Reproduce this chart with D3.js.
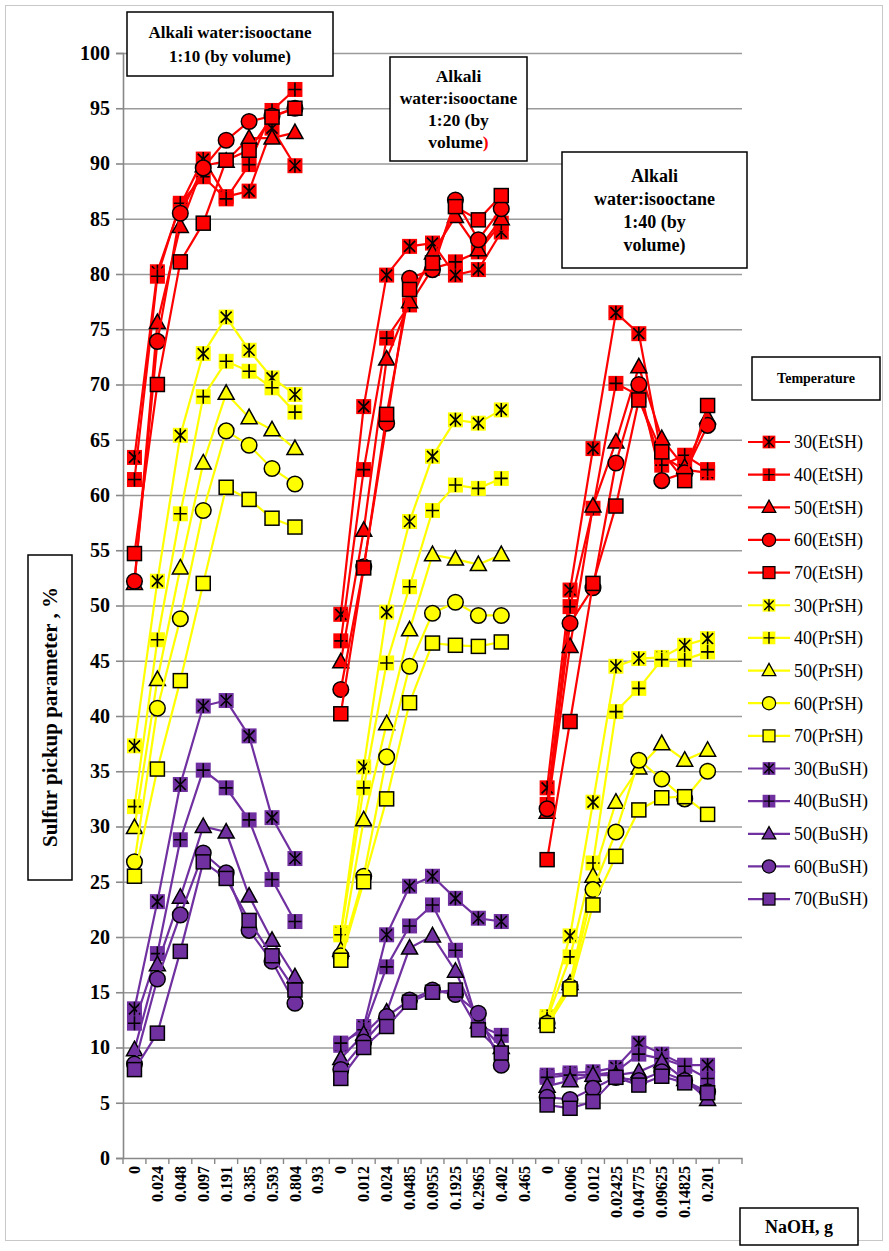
<html>
<script src='https://d3js.org/d3.v7.min.js'></script>
<style>
  body { margin: 0; background: #fff; }
  svg text { font-family: "Liberation Serif", "DejaVu Serif", Times, serif !important; }
</style>
<body onload='init()'>
<svg width=889 height=1251></svg>
<script>
// category labels along the x axis (three groups, last slot of each empty)
var xLabels = ["0","0.024","0.048","0.097","0.191","0.385","0.593","0.804","0.93",
               "0","0.012","0.024","0.0485","0.0955","0.1925","0.2965","0.402","0.465",
               "0","0.006","0.012","0.02425","0.04775","0.09625","0.14825","0.201",""];
var yTicks = [0,5,10,15,20,25,30,35,40,45,50,55,60,65,70,75,80,85,90,95,100];

var seriesNames = ["30(EtSH)","40(EtSH)","50(EtSH)","60(EtSH)","70(EtSH)",
                   "30(PrSH)","40(PrSH)","50(PrSH)","60(PrSH)","70(PrSH)",
                   "30(BuSH)","40(BuSH)","50(BuSH)","60(BuSH)","70(BuSH)"];

var et30 = [63.4,80.2,86.2,90.4,87.0,87.5,93.2,89.8,null, 49.2,68.0,79.9,82.5,82.8,79.9,80.4,83.8,null, 33.5,51.4,64.2,76.5,74.6,63.5,62.3,62.0,null];
var et40 = [61.4,79.8,86.4,88.8,86.8,89.9,94.8,96.7,null, 46.8,62.3,74.2,77.2,80.5,81.1,82.0,84.6,null, 32.0,49.9,58.8,70.1,69.0,62.7,63.6,62.3,null];
var et50 = [52.0,75.6,84.3,89.8,90.2,92.3,92.3,92.8,null, 44.9,56.8,72.3,77.5,81.9,85.2,82.2,85.0,null, 31.3,46.3,59.0,64.8,71.6,65.1,62.5,67.0,null];
var et60 = [52.2,73.9,85.5,89.6,92.1,93.8,94.3,95.0,null, 42.4,53.5,66.5,79.6,80.4,86.7,83.1,85.9,null, 31.6,48.4,51.6,62.9,70.0,61.3,62.0,66.3,null];
var et70 = [54.7,70.0,81.1,84.6,90.3,91.2,94.2,95.0,null, 40.2,53.4,67.3,78.6,81.0,86.1,84.9,87.1,null, 27.0,39.5,52.0,59.0,68.6,63.9,61.3,68.1,null];

var pr30 = [37.3,52.2,65.4,72.8,76.1,73.1,70.6,69.1,null, 20.4,35.4,49.4,57.6,63.5,66.8,66.5,67.7,null, 12.8,20.1,32.2,44.5,45.2,45.3,46.4,47.0,null];
var pr40 = [31.8,46.9,58.3,68.9,72.1,71.2,69.7,67.5,null, 20.2,33.5,44.8,51.7,58.6,60.9,60.6,61.5,null, 12.6,18.2,26.7,40.4,42.5,45.1,45.1,45.8,null];
var pr50 = [29.9,43.3,53.4,62.9,69.2,67.0,65.9,64.2,null, 18.8,30.6,39.3,47.8,54.6,54.2,53.7,54.6,null, 12.3,15.8,25.5,32.2,35.3,37.5,36.0,36.9,null];
var pr60 = [26.8,40.7,48.8,58.6,65.8,64.5,62.4,61.0,null, 18.3,25.5,36.3,44.5,49.3,50.3,49.1,49.1,null, 12.2,15.5,24.3,29.5,36.0,34.3,32.5,35.0,null];
var pr70 = [25.5,35.2,43.2,52.0,60.7,59.6,57.9,57.1,null, 17.9,25.0,32.5,41.2,46.6,46.4,46.3,46.7,null, 12.0,15.3,22.9,27.3,31.5,32.6,32.7,31.1,null];

var bu30 = [13.5,23.2,33.8,40.9,41.4,38.2,30.8,27.1,null, 10.2,11.9,20.2,24.6,25.5,23.5,21.7,21.4,null, 7.5,7.7,7.8,8.2,10.4,9.4,8.4,8.4,null];
var bu40 = [12.2,18.5,28.8,35.1,33.5,30.6,25.2,21.4,null, 10.4,11.6,17.3,21.0,22.9,18.8,12.0,11.1,null, 7.3,7.5,7.5,7.8,9.4,9.0,8.3,7.2,null];
var bu50 = [9.8,17.5,23.6,30.0,29.5,23.7,19.7,16.4,null, 9.0,11.2,13.2,19.0,20.1,16.9,12.3,10.0,null, 6.5,7.0,7.5,7.5,7.8,8.7,7.1,5.3,null];
var bu60 = [8.5,16.2,22.0,27.6,25.8,20.6,17.8,14.0,null, 8.0,10.5,12.8,14.3,15.2,14.8,13.1,8.4,null, 5.5,5.3,6.3,7.3,7.0,7.8,7.0,6.0,null];
var bu70 = [8.0,11.3,18.7,26.8,25.3,21.5,18.3,15.2,null, 7.2,10.0,11.9,14.1,15.0,15.2,11.6,9.5,null, 4.8,4.5,5.1,7.3,6.6,7.4,6.8,5.9,null];

var seriesValues = [et30,et40,et50,et60,et70, pr30,pr40,pr50,pr60,pr70, bu30,bu40,bu50,bu60,bu70];
var colors = ["#ff0000","#ffff00","#7030a0"];
var markerTypes = ["star","plus","tri","circle","square"];
var serif = "'Liberation Serif', 'DejaVu Serif', Times, serif";

function drawMarker(g, type, color) {
  if (type == "star" || type == "plus") {
    g.append("rect").attr("x",-7.5).attr("y",-7.5).attr("width",15).attr("height",15).attr("fill",color);
    var p = type == "star"
      ? "M-5.5,-5.5L5.5,5.5M-5.5,5.5L5.5,-5.5M0,-7L0,7"
      : "M-6.5,0L6.5,0M0,-7L0,7";
    g.append("path").attr("d",p).attr("stroke","#000").attr("stroke-width",1.6);
  } else if (type == "tri") {
    g.append("path").attr("d","M0,-8.5L8,6L-8,6Z").attr("fill",color).attr("stroke","#000").attr("stroke-width",1.5);
  } else if (type == "circle") {
    g.append("circle").attr("r",7.8).attr("fill",color).attr("stroke","#000").attr("stroke-width",1.5);
  } else {
    g.append("rect").attr("x",-7).attr("y",-7).attr("width",14).attr("height",14)
      .attr("fill",color).attr("stroke","#000").attr("stroke-width",1.5);
  }
}

function init() {
  var left = 123, right = 742, top = 53, bottom = 1158;
  var svg = d3.select("svg").style("font-family", serif);

  // outer frame
  svg.append("rect").attr("x",5.5).attr("y",5.5).attr("width",877).attr("height",1235)
     .attr("fill","none").attr("stroke","#c8c8c8").attr("stroke-width",1);

  var x = d3.scaleBand().domain(d3.range(xLabels.length)).range([left,right]);
  var y = d3.scaleLinear().domain([0,100]).range([bottom,top]);
  var cx = function(i) { return x(i) + x.bandwidth()/2; };

  // gridlines
  svg.append("g").attr("transform","translate("+left+",0)")
    .call(d3.axisLeft(y).tickValues(yTicks.slice(1)).tickSize(-(right-left)).tickFormat(""))
    .call(function(g){ g.select(".domain").remove();
      g.selectAll("line").attr("stroke","#9a9a9a").attr("stroke-width",1.6); });

  // y axis
  svg.append("g").attr("transform","translate("+left+",0)")
    .call(d3.axisLeft(y).tickValues(yTicks).tickSize(7).tickPadding(6))
    .call(function(g){
      g.attr("font-family", null);
      g.select(".domain").attr("stroke","#888").attr("stroke-width",1.6);
      g.selectAll("line").attr("stroke","#888").attr("stroke-width",1.6);
      g.selectAll("text").attr("font-size",20).attr("font-weight","bold")
        .style("font-family", serif).attr("fill","#000");
    });

  // x axis
  var xg = svg.append("g").attr("transform","translate(0,"+bottom+")")
    .call(d3.axisBottom(x).tickSize(0).tickFormat(function(i){ return xLabels[i]; }));
  xg.attr("font-family", null);
  xg.select(".domain").attr("stroke","#888").attr("stroke-width",1.6);
  xg.selectAll("text")
    .attr("font-size",16).attr("font-weight","bold").attr("fill","#000")
    .style("font-family", serif)
    .attr("transform","rotate(-90)").attr("text-anchor","end")
    .attr("x",-8).attr("y",0).attr("dy","0.35em");
  svg.append("g").selectAll("line").data(d3.range(xLabels.length+1)).enter().append("line")
    .attr("x1",function(i){ return i < xLabels.length ? x(i) : right; })
    .attr("x2",function(i){ return i < xLabels.length ? x(i) : right; })
    .attr("y1",bottom).attr("y2",bottom+6).attr("stroke","#888").attr("stroke-width",1.4);

  // series
  var line = d3.line().defined(function(d){ return d != null; })
    .x(function(d,i){ return cx(i); }).y(function(d){ return y(d); });

  seriesValues.forEach(function(vals, s) {
    var color = colors[Math.floor(s/5)], type = markerTypes[s%5];
    var g = svg.append("g");
    g.append("path").datum(vals).attr("d",line).attr("fill","none")
      .attr("stroke",color).attr("stroke-width",2.2);
    vals.forEach(function(v, i) {
      if (v == null) return;
      drawMarker(g.append("g").attr("transform","translate("+cx(i)+","+y(v)+")"), type, color);
    });
  });

  // annotation boxes
  function box(x0, y0, w, h, lines, lh, fs) {
    svg.append("rect").attr("x",x0).attr("y",y0).attr("width",w).attr("height",h)
      .attr("fill","#fff").attr("stroke","#000").attr("stroke-width",1.5);
    var t = svg.append("text").attr("text-anchor","middle").attr("font-weight","bold")
      .attr("font-size",fs).style("font-family", serif);
    lines.forEach(function(l, k) {
      var ts = t.append("tspan").attr("x",x0+w/2).attr("y",y0+h/2 - (lines.length-1)*lh/2 + k*lh).attr("dy","0.35em");
      if (typeof l == "string") ts.text(l);
      else { ts.text(l[0]); ts.append("tspan").attr("fill","#ff0000").text(l[1]); }
    });
  }
  box(127, 12, 206, 64, ["Alkali water:isooctane", "1:10  (by volume)"], 24, 17);
  box(390, 57, 137, 104, ["Alkali", "water:isooctane", "1:20  (by", ["volume",")"]], 22, 17.5);
  box(562, 152, 185, 116, ["Alkali", "water:isooctane", "1:40  (by", "volume)"], 23, 18);
  box(740, 1208, 118, 37, ["NaOH, g"], 0, 18);

  // y-axis title
  svg.append("rect").attr("x",28).attr("y",555).attr("width",44).attr("height",325)
    .attr("fill","#fff").attr("stroke","#000").attr("stroke-width",1.5);
  svg.append("text").attr("transform","translate(50,717) rotate(-90)").attr("text-anchor","middle")
    .attr("dy","0.35em").attr("font-weight","bold").attr("font-size",21).style("font-family", serif)
    .text("Sulfur pickup parameter , %");

  // legend
  box(752, 357, 128, 43, ["Temperature"], 0, 14);
  var lg = svg.append("g");
  seriesNames.forEach(function(name, s) {
    var ly = 442 + s*32.65, color = colors[Math.floor(s/5)];
    var item = lg.append("g").attr("transform","translate(0,"+ly+")");
    item.append("line").attr("x1",748).attr("x2",790).attr("y1",0).attr("y2",0)
      .attr("stroke",color).attr("stroke-width",2.2);
    drawMarker(item.append("g").attr("transform","translate(769,0) scale(0.85)"), markerTypes[s%5], color);
    item.append("text").attr("x",794).attr("y",0).attr("dy","0.35em").attr("font-size",18)
      .style("font-family", serif).text(name);
  });
}
</script>
</body>
</html>
